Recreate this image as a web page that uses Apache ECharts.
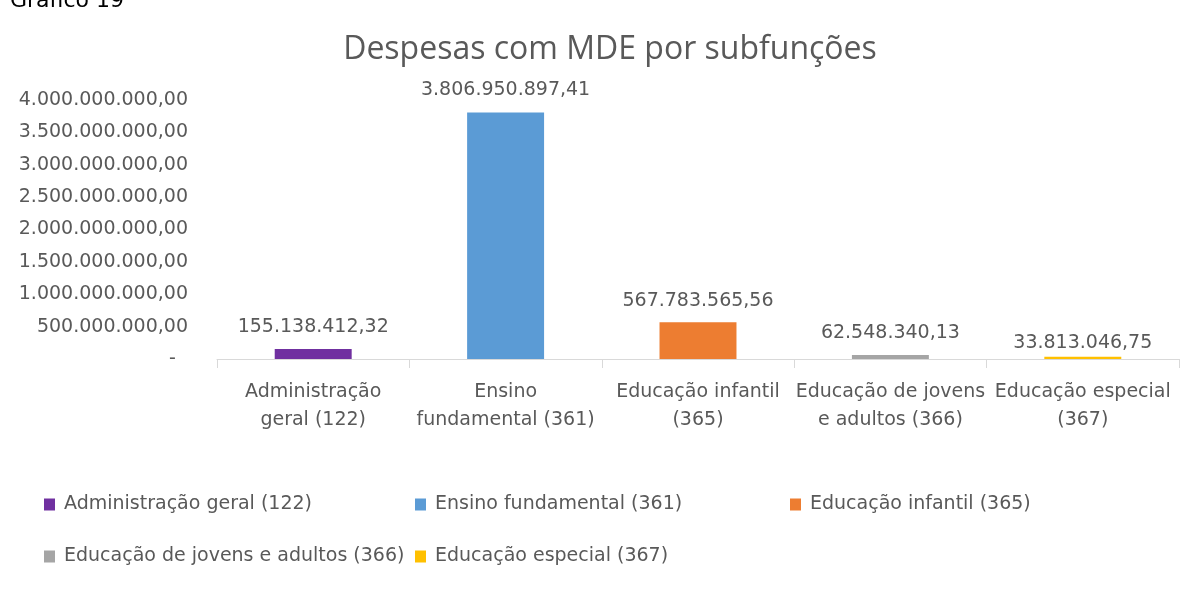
<!DOCTYPE html>
<html>
<head>
<meta charset="utf-8">
<title>Despesas com MDE por subfunções</title>
<script src="https://cdn.jsdelivr.net/npm/echarts@6/dist/echarts.min.js"></script>
<style>
  html, body { margin: 0; padding: 0; background: #fff; }
  #chart { width: 1195px; height: 595px; }
</style>
</head>
<body>
<div id="chart"></div>
<script>
// dados do gráfico
const seriesNames = [
  "Administração geral (122)",
  "Ensino fundamental (361)",
  "Educação infantil (365)",
  "Educação de jovens e adultos (366)",
  "Educação especial (367)"
];
const categoryLabels = [
  "Administração\ngeral (122)",
  "Ensino\nfundamental (361)",
  "Educação infantil\n(365)",
  "Educação de jovens\ne adultos (366)",
  "Educação especial\n(367)"
];
const values = [155138412.32, 3806950897.41, 567783565.56, 62548340.13, 33813046.75];
const colors = ["#7030A0", "#5B9BD5", "#ED7D31", "#A5A5A5", "#FFC000"];
const yMin = 0;
const yMax = 4000000000;
const yInterval = 500000000;

const textColor = "#595959";
const font = "DejaVu Sans";

// 1234567.8 -> "1.234.567,80"
function formatBR(n) {
  const parts = n.toFixed(2).split(".");
  const intPart = parts[0].replace(/\B(?=(\d{3})+(?!\d))/g, ".");
  return intPart + "," + parts[1];
}

const labelDistance = [12, 13, 12, 12, 4];
const legendPos = [
  { left: 44, top: 495 },
  { left: 415, top: 495 },
  { left: 790, top: 495 },
  { left: 44, top: 547 },
  { left: 415, top: 547 }
];

let seriesArray = [];
seriesNames.forEach((name, i) => {
  seriesArray.push({
    type: "bar",
    name: name,
    stack: "total",
    barWidth: "40%",
    itemStyle: { color: colors[i] },
    label: {
      show: true,
      position: "top",
      distance: labelDistance[i],
      color: textColor,
      fontFamily: font,
      fontSize: 19,
      formatter: p => formatBR(p.value)
    },
    data: categoryLabels.map((c, j) => (j === i ? values[i] : "-"))
  });
});

const legends = seriesNames.map((name, i) => ({
  data: [name],
  left: legendPos[i].left,
  top: legendPos[i].top,
  padding: 0,
  icon: "rect",
  itemWidth: 11,
  itemHeight: 12,
  selectedMode: false,
  textStyle: {
    color: textColor,
    fontFamily: font,
    fontSize: 19,
    padding: [0, 0, 0, 4]
  }
}));

const myChart = echarts.init(document.getElementById("chart"));
myChart.setOption({
  animation: false,
  title: {
    text: "Despesas com MDE por subfunções",
    left: 605,
    top: 29,
    textAlign: "center",
    textStyle: {
      color: textColor,
      fontFamily: "Open Sans",
      fontSize: 32,
      fontWeight: "normal"
    }
  },
  graphic: [
    {
      type: "text",
      left: 10,
      top: -10,
      style: {
        text: "Gráfico 19",
        fill: "#000",
        font: "22px " + font
      }
    }
  ],
  legend: legends,
  grid: {
    left: 217,
    right: 16,
    top: 100,
    bottom: 236,
    containLabel: false
  },
  xAxis: {
    type: "category",
    data: categoryLabels,
    axisLine: { show: true, lineStyle: { color: "#D9D9D9", width: 1 } },
    axisTick: { show: true, length: 9, lineStyle: { color: "#D9D9D9" } },
    axisLabel: {
      color: textColor,
      fontFamily: font,
      fontSize: 19,
      lineHeight: 28,
      margin: 19,
      interval: 0
    },
    splitLine: { show: false }
  },
  yAxis: {
    type: "value",
    min: yMin,
    max: yMax,
    interval: yInterval,
    axisLine: { show: false },
    axisTick: { show: false },
    splitLine: { show: false },
    axisLabel: {
      color: textColor,
      fontFamily: font,
      fontSize: 19,
      margin: 29,
      formatter: v => (v === 0 ? "-  " : formatBR(v))
    }
  },
  series: seriesArray
});
</script>
</body>
</html>
